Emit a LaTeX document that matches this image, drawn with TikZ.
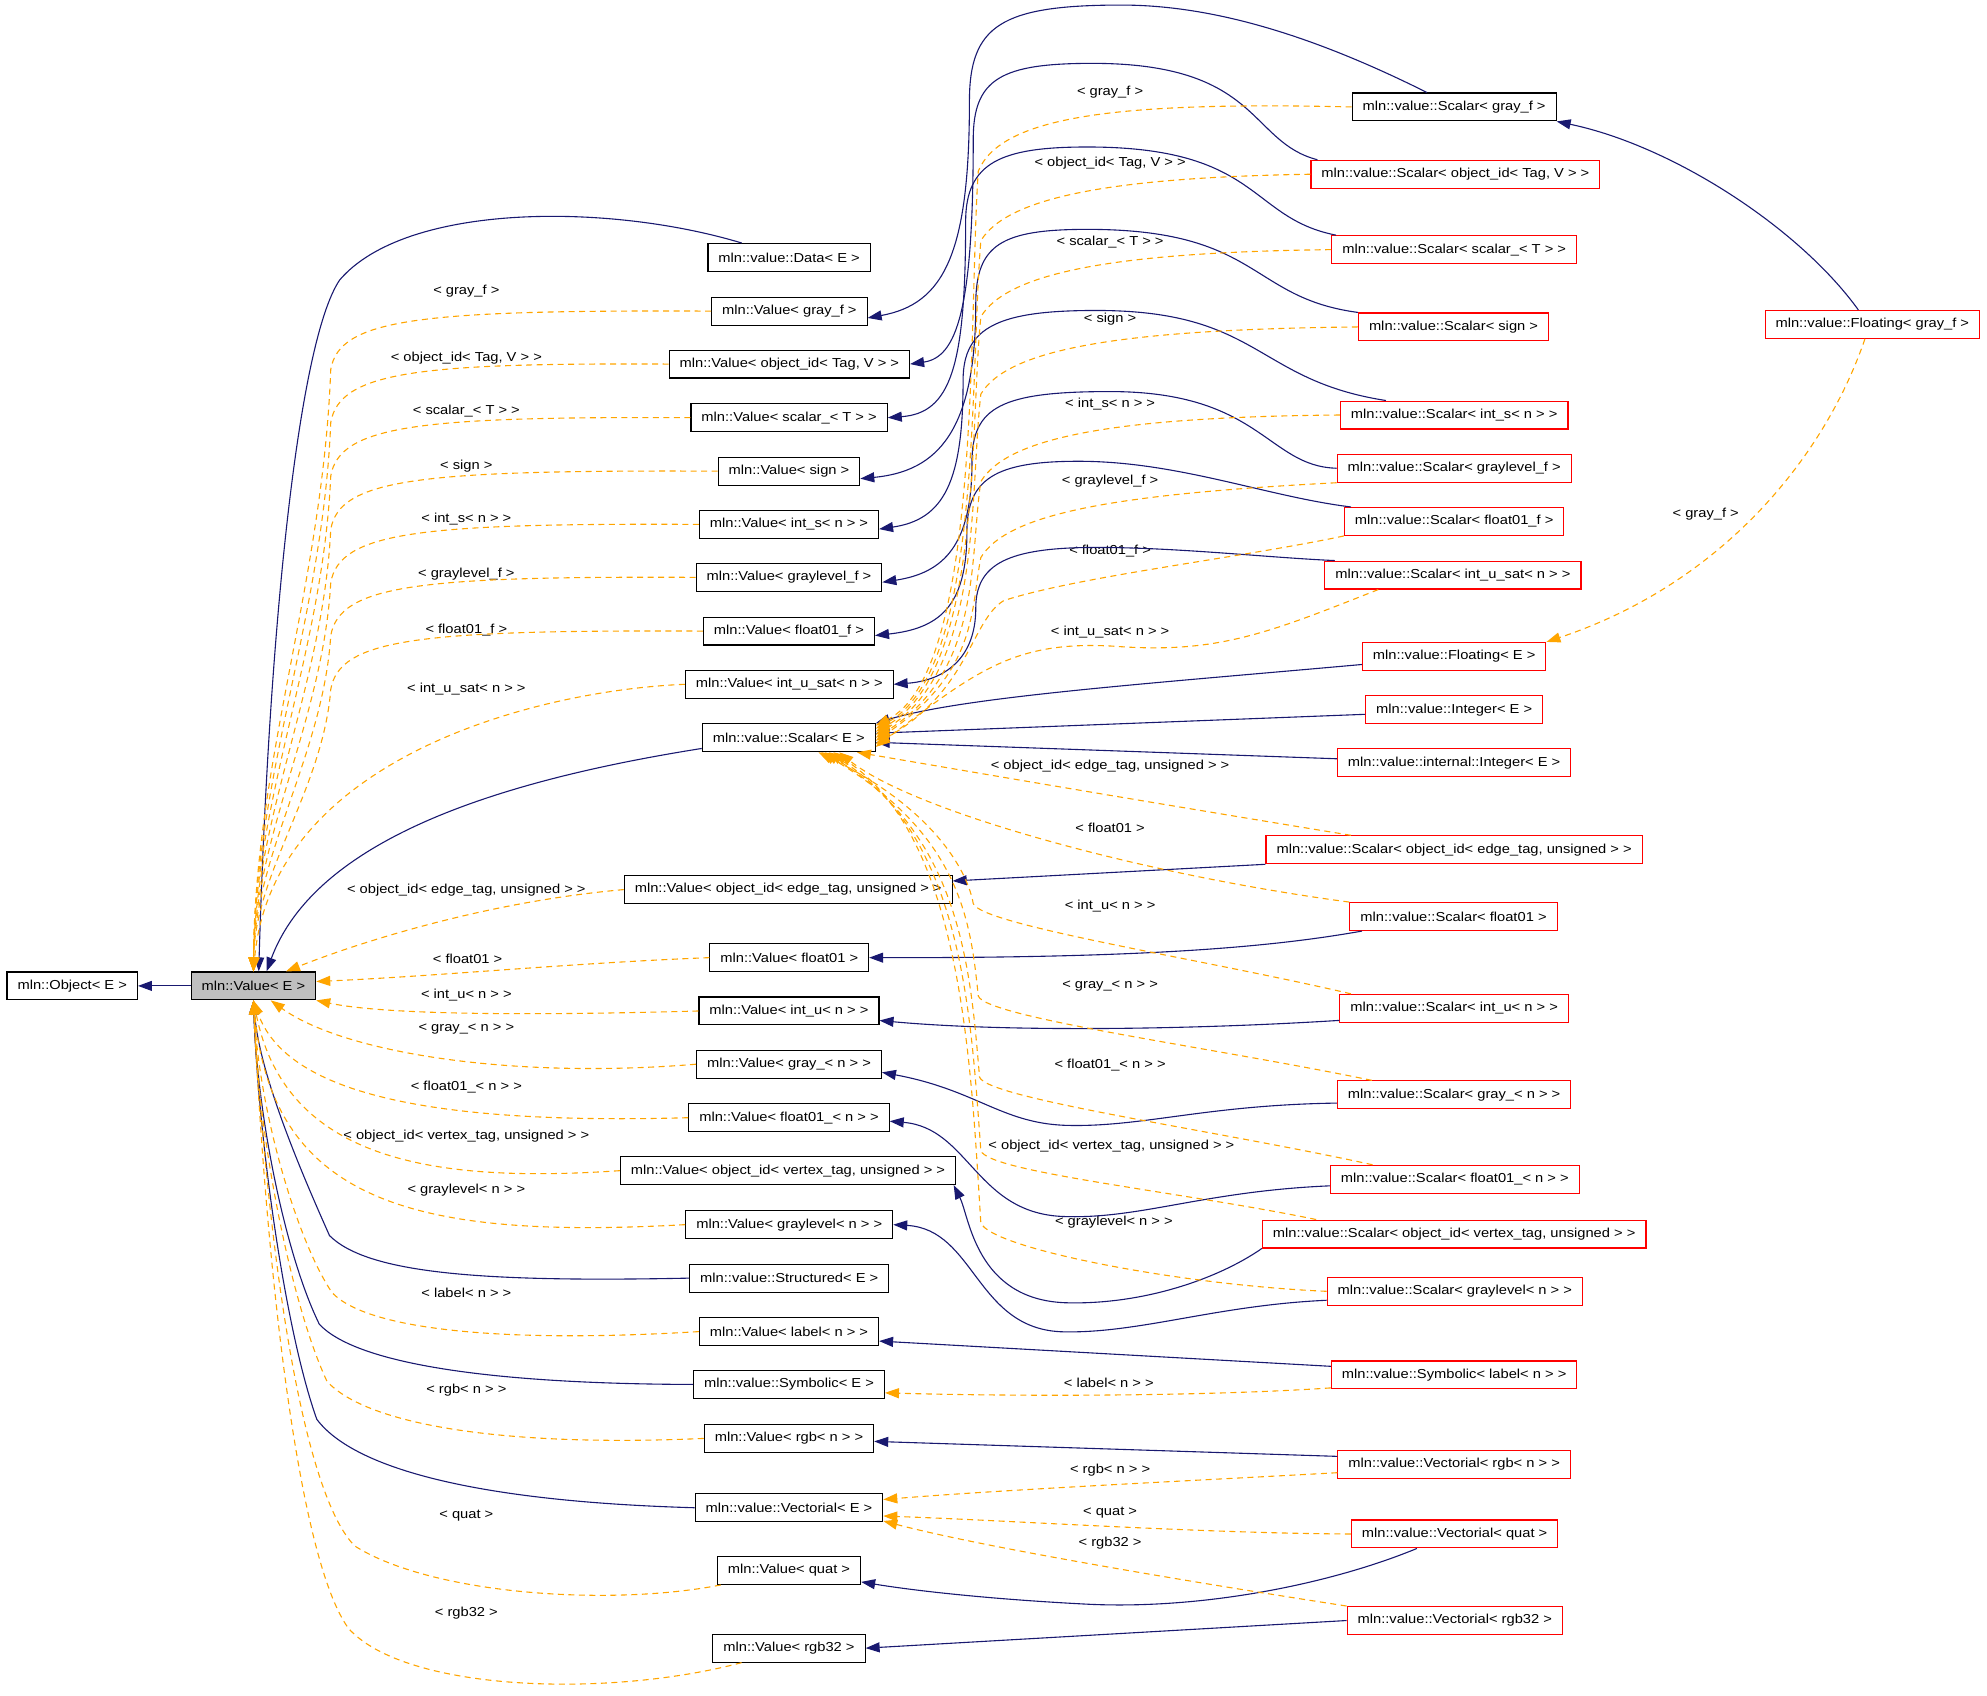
\documentclass[tikz,border=0pt]{standalone}
\usepackage{fontspec}
\setmainfont{Liberation Sans}[FakeStretch=1.13]
\usetikzlibrary{arrows.meta}
\definecolor{cNavy}{HTML}{191970}
\definecolor{cTmpl}{HTML}{FFA500}
\definecolor{cUndoc}{HTML}{FF0000}
\definecolor{cBase}{HTML}{BFBFBF}

\begin{document}
\begin{tikzpicture}[
  x=1.2672pt, y=-1.2672pt,
  cls/.style={
    draw=black, fill=white, line width=1.1pt,
    minimum height=27.9pt, inner xsep=10.5pt, inner ysep=0pt,
    font=\fontsize{13}{15}\selectfont
  },
  undoc/.style={cls, draw=cUndoc},
  root/.style={cls, fill=cBase},
  lbl/.style={font=\fontsize{13}{15}\selectfont, inner sep=0pt},
  inh/.style={draw=cNavy, line width=1.1pt, -{Triangle[length=14pt,width=10pt]}},
  tmpl/.style={draw=cTmpl, line width=1.1pt, dash pattern=on 6pt off 4.5pt,
    -{Triangle[length=14pt,width=10pt]}},
]
\useasboundingbox (0,0) rectangle (1568,1338);

% left
\node[cls]  (obj)   at (57,778)  {mln::Object< E >};
\node[root] (value) at (200,778) {mln::Value< E >};

% middle column
\node[cls] (data)   at (622.7,203.2) {mln::value::Data< E >};
\node[cls] (vgrayf) at (622.9,245.5) {mln::Value< gray\_f >};
\node[cls] (vobjtv) at (622.9,287.3) {mln::Value< object\_id< Tag, V > >};
\node[cls] (vscal)  at (622.7,329.6) {mln::Value< scalar\_< T > >};
\node[cls] (vsign)  at (622.6,371.8) {mln::Value< sign >};
\node[cls] (vints)  at (622.6,413.8) {mln::Value< int\_s< n > >};
\node[cls] (vglf)   at (622.6,455.6) {mln::Value< graylevel\_f >};
\node[cls] (vf01f)  at (622.6,498)   {mln::Value< float01\_f >};
\node[cls] (vius)   at (622.8,540)   {mln::Value< int\_u\_sat< n > >};
\node[cls] (scalar) at (622.4,582.2) {mln::value::Scalar< E >};
\node[cls] (voe)    at (622,702)     {mln::Value< object\_id< edge\_tag, unsigned > >};
\node[cls] (vf01)   at (622.8,755.7) {mln::Value< float01 >};
\node[cls] (vintu)  at (622.6,797.8) {mln::Value< int\_u< n > >};
\node[cls] (vgray)  at (622.6,839.8) {mln::Value< gray\_< n > >};
\node[cls] (vf01n)  at (622.6,882)   {mln::Value< float01\_< n > >};
\node[cls] (vov)    at (621.8,923.8) {mln::Value< object\_id< vertex\_tag, unsigned > >};
\node[cls] (vgl)    at (622.8,966.4) {mln::Value< graylevel< n > >};
\node[cls] (struct) at (622.8,1008.6) {mln::value::Structured< E >};
\node[cls] (vlabel) at (622.6,1050.8) {mln::Value< label< n > >};
\node[cls] (symb)   at (622.6,1092.5) {mln::value::Symbolic< E >};
\node[cls] (vrgb)   at (622.6,1135.1) {mln::Value< rgb< n > >};
\node[cls] (vect)   at (622.6,1189.8) {mln::value::Vectorial< E >};
\node[cls] (vquat)  at (622.6,1239.3) {mln::Value< quat >};
\node[cls] (vrgb32) at (622.6,1300.6) {mln::Value< rgb32 >};

% right column
\node[cls]   (sgrayf)   at (1147.5,84.4)  {mln::value::Scalar< gray\_f >};
\node[undoc] (sobjtv)   at (1148.5,137.5) {mln::value::Scalar< object\_id< Tag, V > >};
\node[undoc] (sscal)    at (1147.5,197)   {mln::value::Scalar< scalar\_< T > >};
\node[undoc] (ssign)    at (1147,258)     {mln::value::Scalar< sign >};
\node[undoc] (sints)    at (1147.5,327.5) {mln::value::Scalar< int\_s< n > >};
\node[undoc] (sglf)     at (1147.5,369.5) {mln::value::Scalar< graylevel\_f >};
\node[undoc] (sf01f)    at (1147.5,411.5) {mln::value::Scalar< float01\_f >};
\node[undoc] (sius)     at (1146.5,453.8) {mln::value::Scalar< int\_u\_sat< n > >};
\node[undoc] (floating) at (1147.5,518)   {mln::value::Floating< E >};
\node[undoc] (integer)  at (1147.5,560)   {mln::value::Integer< E >};
\node[undoc] (iinteger) at (1147.5,602)   {mln::value::internal::Integer< E >};
\node[undoc] (soe)      at (1147.5,670.6) {mln::value::Scalar< object\_id< edge\_tag, unsigned > >};
\node[undoc] (sf01)     at (1147,723.3)   {mln::value::Scalar< float01 >};
\node[undoc] (sintu)    at (1147.5,795.7) {mln::value::Scalar< int\_u< n > >};
\node[undoc] (sgray)    at (1147.5,864)   {mln::value::Scalar< gray\_< n > >};
\node[undoc] (sf01n)    at (1148,930.6)   {mln::value::Scalar< float01\_< n > >};
\node[undoc] (sov)      at (1147.5,973.8) {mln::value::Scalar< object\_id< vertex\_tag, unsigned > >};
\node[undoc] (sgl)      at (1148,1019)    {mln::value::Scalar< graylevel< n > >};
\node[undoc] (slabel)   at (1147.5,1085)  {mln::value::Symbolic< label< n > >};
\node[undoc] (vecrgb)   at (1147.5,1155.7) {mln::value::Vectorial< rgb< n > >};
\node[undoc] (vecquat)  at (1147.9,1210.5) {mln::value::Vectorial< quat >};
\node[undoc] (vecrgb32) at (1148,1278.8)  {mln::value::Vectorial< rgb32 >};
\node[undoc] (fgrayf)   at (1477.5,256)   {mln::value::Floating< gray\_f >};

% labels, left
\node[lbl] (lvgrayf) at (368,230)   {< gray\_f >};
\node[lbl] (lvobjtv) at (368,283)   {< object\_id< Tag, V > >};
\node[lbl] (lvscal)  at (368,324.7) {< scalar\_< T > >};
\node[lbl] (lvsign)  at (368,367.5) {< sign >};
\node[lbl] (lvints)  at (368,409.8) {< int\_s< n > >};
\node[lbl] (lvglf)   at (368,453)   {< graylevel\_f >};
\node[lbl] (lvf01f)  at (368,497.4) {< float01\_f >};
\node[lbl] (lvius)   at (368,544)   {< int\_u\_sat< n > >};
\node[lbl] (lvoe)    at (368,702.7) {< object\_id< edge\_tag, unsigned > >};
\node[lbl] (lvf01)   at (369,756.3) {< float01 >};
\node[lbl] (lvintu)  at (368,785.6) {< int\_u< n > >};
\node[lbl] (lvgray)  at (368,812.4) {< gray\_< n > >};
\node[lbl] (lvf01n)  at (368,857.5) {< float01\_< n > >};
\node[lbl] (lvov)    at (368,896.3) {< object\_id< vertex\_tag, unsigned > >};
\node[lbl] (lvgl)    at (368,939.5) {< graylevel< n > >};
\node[lbl] (lvlabel) at (368,1020.5) {< label< n > >};
\node[lbl] (lvrgb)   at (368,1097)  {< rgb< n > >};
\node[lbl] (lvquat)  at (368,1196.3) {< quat >};
\node[lbl] (lvrgb32) at (368,1273)  {< rgb32 >};

% labels, right
\node[lbl] (lsgrayf) at (876,72.5)  {< gray\_f >};
\node[lbl] (lsobjtv) at (876,129)   {< object\_id< Tag, V > >};
\node[lbl] (lsscal)  at (876,191)   {< scalar\_< T > >};
\node[lbl] (lssign)  at (876,252)   {< sign >};
\node[lbl] (lsints)  at (876,318.6) {< int\_s< n > >};
\node[lbl] (lsglf)   at (876,380)   {< graylevel\_f >};
\node[lbl] (lsf01f)  at (876,435)   {< float01\_f >};
\node[lbl] (lsius)   at (876,498.4) {< int\_u\_sat< n > >};
\node[lbl] (lsoe)    at (876,604.6) {< object\_id< edge\_tag, unsigned > >};
\node[lbl] (lsf01)   at (876,653)   {< float01 >};
\node[lbl] (lsintu)  at (876,715)   {< int\_u< n > >};
\node[lbl] (lsgray)  at (876,778.5) {< gray\_< n > >};
\node[lbl] (lsf01n)  at (876,840.5) {< float01\_< n > >};
\node[lbl] (lsov)    at (877,904.8) {< object\_id< vertex\_tag, unsigned > >};
\node[lbl] (lsgl)    at (879,964.8) {< graylevel< n > >};
\node[lbl] (lslabel) at (875,1091)  {< label< n > >};
\node[lbl] (lsrgb)   at (876,1160)  {< rgb< n > >};
\node[lbl] (lsquat)  at (876,1193.4) {< quat >};
\node[lbl] (lsrgb32) at (876,1218)  {< rgb32 >};
\node[lbl] (lfgrayf) at (1346,405.6) {< gray\_f >};

% base classes of Value< E >
\draw[inh] (value.west) -- (obj.east);
\draw[inh] (data.163) .. controls (480,160) and (320,160) .. (268,221)
  .. controls (235,270) and (212,500) .. (value.70);
\draw[inh] (scalar.187) .. controls (400,615) and (250,660) .. (value.48);
\draw[inh] (struct.west) .. controls (380,1012) and (290,1005) .. (260,975)
  .. controls (240,930) and (205,850) .. (value.south);
\draw[inh] (symb.west) .. controls (380,1092) and (280,1075) .. (252,1045)
  .. controls (225,990) and (203,880) .. (value.south);
\draw[inh] (vect.west) .. controls (380,1185) and (280,1160) .. (250,1120)
  .. controls (225,1050) and (204,900) .. (value.south);

% Scalar< X > -> Value< X >
\draw[inh] (sgrayf.152) .. controls (1040,30) and (960,4) .. (885,4)
  .. controls (790,4) and (765,20) .. (765,80) .. controls (765,200) and (745,240) .. (vgrayf.-5);
\draw[inh] (sobjtv.174) .. controls (985,112) and (995,50) .. (862,50)
  .. controls (790,50) and (768,62) .. (768,110) .. controls (768,245) and (755,282) .. (vobjtv.east);
\draw[inh] (sscal.173) .. controls (985,172) and (995,116) .. (858,116)
  .. controls (790,116) and (762,128) .. (762,175) .. controls (762,290) and (750,326) .. (vscal.east);
\draw[inh] (ssign.north west) .. controls (985,235) and (995,181) .. (858,181)
  .. controls (790,181) and (770,193) .. (770,240) .. controls (770,340) and (740,372) .. (vsign.-6);
\draw[inh] (sints.168) .. controls (990,300) and (995,245) .. (865,245)
  .. controls (790,245) and (760,257) .. (760,300) .. controls (760,380) and (745,410) .. (vints.-3);
\draw[inh] (sglf.west) .. controls (1000,368) and (995,309) .. (876,309)
  .. controls (790,309) and (767,321) .. (767,365) .. controls (767,430) and (745,452) .. (vglf.-3);
\draw[inh] (sf01f.172) .. controls (1000,392) and (930,364) .. (851,364)
  .. controls (785,364) and (763,378) .. (763,420) .. controls (763,480) and (740,496) .. (vf01f.-3);
\draw[inh] (sius.173) .. controls (1000,440) and (930,432) .. (865,432)
  .. controls (795,432) and (770,445) .. (770,480) .. controls (770,520) and (745,537) .. (vius.east);
\draw[inh] (soe.south west) -- (voe.3);
\draw[inh] (sf01.-171) .. controls (1000,748) and (900,756) .. (vf01.east);
\draw[inh] (sintu.-174) .. controls (950,812) and (800,815) .. (vintu.-6);
\draw[inh] (sgray.-176) .. controls (950,872) and (900,890) .. (840,888)
  .. controls (790,886) and (770,860) .. (vgray.-5);
\draw[inh] (sf01n.-177) .. controls (950,940) and (900,962) .. (840,960)
  .. controls (770,958) and (765,890) .. (vf01n.-2);
\draw[inh] (sov.south west) .. controls (960,1010) and (900,1030) .. (840,1028)
  .. controls (770,1025) and (765,960) .. (vov.-5);
\draw[inh] (sgl.-176) .. controls (960,1030) and (900,1052) .. (840,1051)
  .. controls (770,1050) and (770,970) .. (vgl.east);
\draw[inh] (slabel.176) -- (vlabel.-6);
\draw[inh] (vecrgb.176) -- (vrgb.-2);
\draw[inh] (vecquat.-159) .. controls (1050,1250) and (950,1270) .. (860,1266)
  .. controls (780,1262) and (720,1255) .. (vquat.-9);
\draw[inh] (vecrgb32.west) -- (vrgb32.east);

% bases of Scalar< E > and Scalar< gray_f >
\draw[inh] (floating.-175) .. controls (900,540) and (760,550) .. (scalar.north east);
\draw[inh] (integer.-177) -- (scalar.3);
\draw[inh] (iinteger.178) -- (scalar.-3);
\draw[inh] (fgrayf.134) .. controls (1420,180) and (1320,115) .. (sgrayf.south east);

% template instances of Value< E >
\draw[tmpl] (vgrayf.west) .. controls (330,244.5) and (268,251.5) .. (261,291.5)
  .. controls (255,458) and (201,601) .. (value.north);
\draw[tmpl] (vobjtv.west) .. controls (330,286.3) and (268,293.3) .. (261,333.3)
  .. controls (255,485) and (201,615) .. (value.north);
\draw[tmpl] (vscal.west) .. controls (330,328.6) and (268,335.6) .. (261,375.6)
  .. controls (255,513) and (201,630) .. (value.north);
\draw[tmpl] (vsign.west) .. controls (330,370.8) and (268,377.8) .. (261,417.8)
  .. controls (255,540) and (201,645) .. (value.north);
\draw[tmpl] (vints.west) .. controls (330,412.8) and (268,419.8) .. (261,459.8)
  .. controls (255,567) and (201,660) .. (value.north);
\draw[tmpl] (vglf.west) .. controls (330,454.6) and (268,461.6) .. (261,501.6)
  .. controls (255,595) and (201,674) .. (value.north);
\draw[tmpl] (vf01f.west) .. controls (330,497) and (268,504) .. (261,544)
  .. controls (255,622) and (201,689) .. (value.north);
\draw[tmpl] (vius.west) .. controls (420,545) and (215,600) .. (value.north);
\draw[tmpl] (voe.west) .. controls (380,712) and (280,745) .. (value.24);
\draw[tmpl] (vf01.west) .. controls (450,760) and (350,770) .. (value.4);
\draw[tmpl] (vintu.west) .. controls (400,802) and (300,800) .. (value.south east);
\draw[tmpl] (vgray.west) .. controls (400,852) and (270,830) .. (value.-40);
\draw[tmpl] (vf01n.west) .. controls (330,888) and (225,860) .. (value.south);
\draw[tmpl] (vov.west) .. controls (340,934) and (225,915) .. (value.south);
\draw[tmpl] (vgl.west) .. controls (330,978) and (215,950) .. (value.south);
\draw[tmpl] (vlabel.west) .. controls (400,1060) and (290,1050) .. (262,1020)
  .. controls (235,980) and (205,880) .. (value.south);
\draw[tmpl] (vrgb.west) .. controls (400,1142) and (290,1125) .. (258,1090)
  .. controls (230,1030) and (204,900) .. (value.south);
\draw[tmpl] (vquat.-168) .. controls (480,1268) and (340,1258) .. (280,1220)
  .. controls (240,1180) and (212,1000) .. (value.south);
\draw[tmpl] (vrgb32.-163) .. controls (480,1340) and (320,1335) .. (275,1285)
  .. controls (235,1230) and (210,1000) .. (value.south);

% template instances of Scalar< E >
\draw[tmpl] (sgrayf.west) .. controls (880,80) and (790,92) .. (772,135)
  .. controls (764,250) and (775,530) .. (scalar.8);
\draw[tmpl] (sobjtv.west) .. controls (880,140) and (795,155) .. (774,190)
  .. controls (765,300) and (775,530) .. (scalar.6);
\draw[tmpl] (sscal.west) .. controls (880,199) and (795,215) .. (774,250)
  .. controls (765,340) and (775,530) .. (scalar.4);
\draw[tmpl] (ssign.west) .. controls (880,260) and (795,276) .. (774,311)
  .. controls (765,390) and (775,530) .. (scalar.2);
\draw[tmpl] (sints.west) .. controls (880,329) and (795,345) .. (774,380)
  .. controls (765,440) and (775,530) .. (scalar.0);
\draw[tmpl] (sglf.south west) .. controls (880,390) and (795,405) .. (774,440)
  .. controls (766,480) and (772,530) .. (scalar.-2);
\draw[tmpl] (sf01f.south west) .. controls (980,440) and (850,455) .. (792,474)
  .. controls (766,490) and (765,545) .. (scalar.-4);
\draw[tmpl] (sius.-169) .. controls (1000,500) and (960,516) .. (880,510)
  .. controls (800,505) and (770,530) .. (scalar.-6);
\draw[tmpl] (soe.172) .. controls (900,632) and (760,608) .. (scalar.-12);
\draw[tmpl] (sf01.north west) .. controls (900,690) and (720,640) .. (scalar.-16);
\draw[tmpl] (sintu.172) .. controls (950,757) and (774,730) .. (768,713)
  .. controls (764,690) and (740,640) .. (scalar.-26);
\draw[tmpl] (sgray.170) .. controls (960,827) and (778,803) .. (772,786)
  .. controls (766,730) and (760,660) .. (scalar.-24);
\draw[tmpl] (sf01n.170) .. controls (960,892) and (779,867) .. (773,850)
  .. controls (766,770) and (760,660) .. (scalar.-22);
\draw[tmpl] (sov.174) .. controls (930,940) and (780,925) .. (774,908)
  .. controls (766,800) and (760,660) .. (scalar.-20);
\draw[tmpl] (sgl.west) .. controls (930,1014) and (782,985) .. (774,965)
  .. controls (766,840) and (760,660) .. (scalar.-18);

% other template instances
\draw[tmpl] (fgrayf.-117) .. controls (1440,360) and (1360,460) .. (floating.north east);
\draw[tmpl] (slabel.-174) .. controls (950,1102) and (800,1102) .. (symb.-5);
\draw[tmpl] (vecrgb.-176) .. controls (950,1168) and (800,1175) .. (vect.5);
\draw[tmpl] (vecquat.west) .. controls (950,1210) and (800,1200) .. (vect.-5);
\draw[tmpl] (vecrgb32.north west) .. controls (950,1250) and (780,1222) .. (vect.-8);
\end{tikzpicture}
\end{document}
